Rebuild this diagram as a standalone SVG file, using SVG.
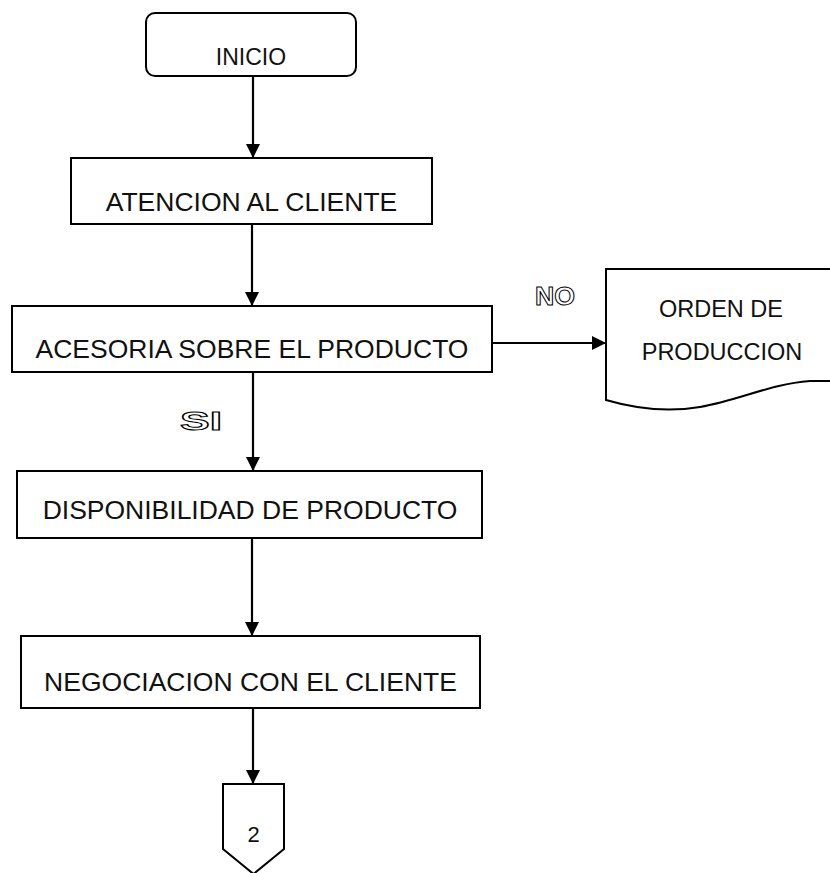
<svg xmlns="http://www.w3.org/2000/svg" width="830" height="873" viewBox="0 0 830 873">
<style>
.box{fill:#fff;stroke:#000;stroke-width:2}
.lbl{font-family:"Liberation Sans",Arial,sans-serif;font-size:26.5px;fill:#111;text-anchor:middle}
.doc{font-family:"Liberation Sans",Arial,sans-serif;font-size:23.5px;fill:#111;text-anchor:middle}
.out{font-family:"Liberation Sans",Arial,sans-serif;font-weight:bold;font-size:26px;fill:#fff;stroke:#000;stroke-width:1;}
.con{fill:none;stroke:#000;stroke-width:2.2;marker-end:url(#ah)}
</style>
<defs>
<marker id="ah" markerUnits="userSpaceOnUse" markerWidth="14" markerHeight="14" viewBox="0 0 14 14" refX="14" refY="7" orient="auto">
<path d="M0,0 L14,7 L0,14 Z" fill="#000"/>
</marker>
</defs>
<rect width="830" height="873" fill="#fff"/>
<g id="connectors">
<line class="con" x1="253" y1="76" x2="253" y2="158"/>
<line class="con" x1="252" y1="224" x2="252" y2="306"/>
<line class="con" x1="492" y1="343" x2="606" y2="343"/>
<line class="con" x1="253" y1="372" x2="253" y2="471"/>
<line class="con" x1="252" y1="538" x2="252" y2="636"/>
<line class="con" x1="253" y1="708" x2="253" y2="784"/>
<text class="out" x="535" y="305" textLength="40" lengthAdjust="spacingAndGlyphs">NO</text>
<text class="out" x="180" y="430" textLength="42" lengthAdjust="spacingAndGlyphs">SI</text>
</g>
<g id="inicio">
<rect class="box" x="146" y="13" width="210" height="63" rx="9"/>
<text class="lbl" style="font-size:23px" x="251" y="65">INICIO</text>
</g>
<g id="atencion">
<rect class="box" x="71" y="158" width="361" height="66"/>
<text class="lbl" x="251.5" y="211">ATENCION AL CLIENTE</text>
</g>
<g id="acesoria">
<rect class="box" x="12" y="306" width="480" height="66"/>
<text class="lbl" x="252" y="358">ACESORIA SOBRE EL PRODUCTO</text>
</g>
<g id="orden">
<path class="box" d="M606,400 V269 H832 V381 L810,381 C770,384 740,400 700,407 C670,412 640,410 606,400 Z"/>
<text class="doc" x="721" y="317">ORDEN DE</text>
<text class="doc" x="722" y="360">PRODUCCION</text>
</g>
<g id="disponibilidad">
<rect class="box" x="17" y="471" width="465" height="67"/>
<text class="lbl" x="250" y="519">DISPONIBILIDAD DE PRODUCTO</text>
</g>
<g id="negociacion">
<rect class="box" x="21" y="636" width="459" height="72"/>
<text class="lbl" x="250.5" y="691">NEGOCIACION CON EL CLIENTE</text>
</g>
<g id="conector2">
<path class="box" d="M223,784 H284 V849 L253.5,874 L223,849 Z"/>
<text class="lbl" style="font-size:22px" x="253.5" y="842">2</text>
</g>
</svg>
